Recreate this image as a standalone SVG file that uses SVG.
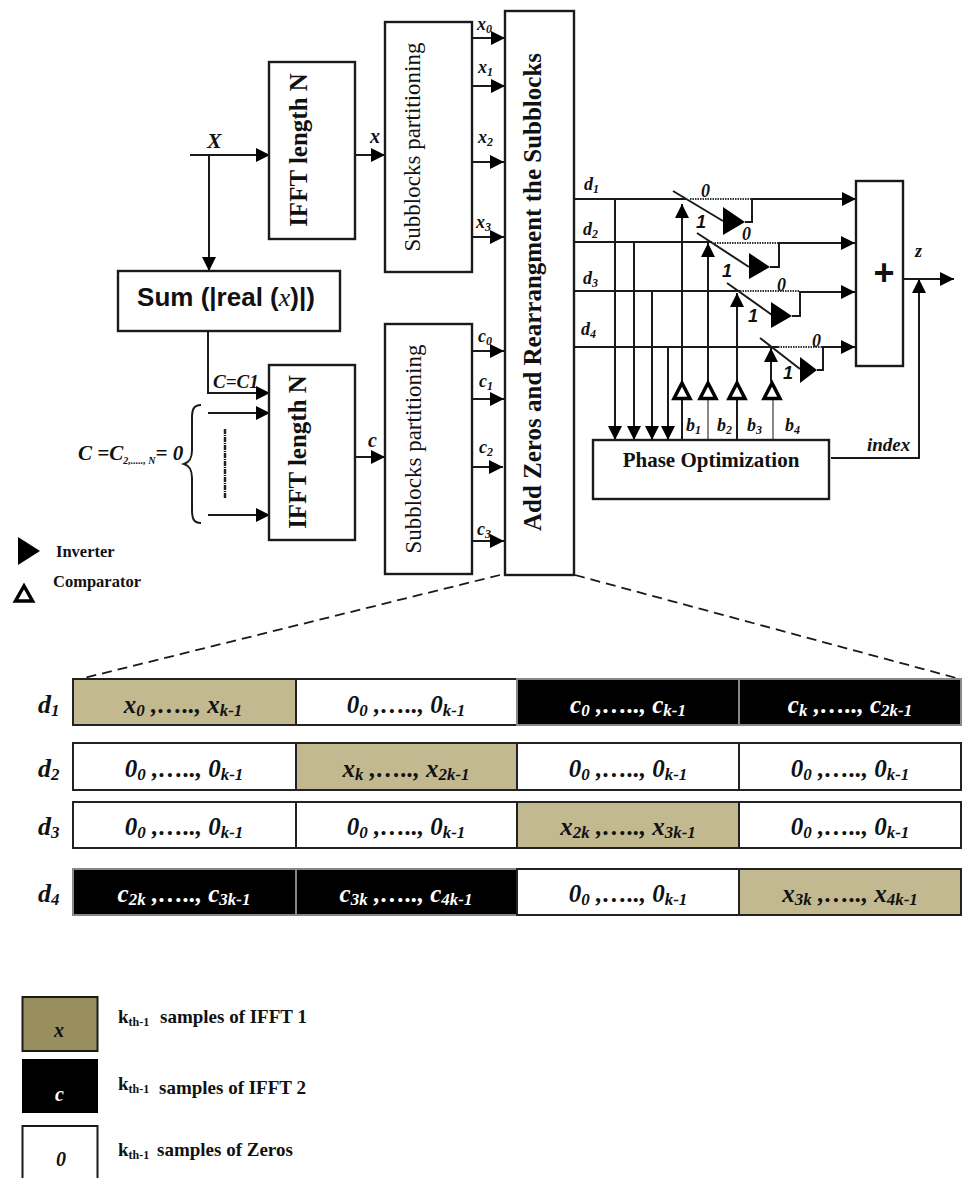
<svg xmlns="http://www.w3.org/2000/svg" width="962" height="1178" viewBox="0 0 962 1178">
<style>
text{font-family:"Liberation Serif",serif;fill:#111;font-weight:bold}
.i{font-style:italic}
.s{font-family:"Liberation Sans",sans-serif}
.box{fill:#fff;stroke:#1a1a1a;stroke-width:2.4}
.ln{fill:none;stroke:#1a1a1a;stroke-width:2}
.ar{fill:none;stroke:#1a1a1a;stroke-width:2;marker-end:url(#ah)}
.dot{fill:none;stroke:#333;stroke-width:2;stroke-dasharray:1.5 1}
.inv{fill:#000}
.cmp{fill:#fff;stroke:#000;stroke-width:3.5}
.t{font-size:25px;text-anchor:middle}
.tw{fill:#fff}
.cell{stroke:#222;stroke-width:2}
.g{stroke:#888}
.rot{text-anchor:middle}
.lab{font-size:18px}
.leg{font-size:19px}
</style>
<defs>
<marker id="ah" markerUnits="userSpaceOnUse" markerWidth="15" markerHeight="15" refX="14" refY="7.5" orient="auto"><path d="M0,0.5L14,7.5L0,14.5Z" fill="#000"/></marker>
</defs>
<rect width="962" height="1178" fill="#fff"/>

<g id="connectors">
<path class="ar" d="M190,155H270"/>
<path class="ar" d="M209,155V271"/>
<path class="ar" d="M355,155H385"/>
<path class="ar" d="M472,38H505"/>
<path class="ar" d="M472,86H505"/>
<path class="ar" d="M472,162H504"/>
<path class="ar" d="M472,237H504"/>
<path class="ar" d="M208,331V393H270"/>
<path class="ar" d="M208,413H270"/>
<path class="ar" d="M208,515H270"/>
<path class="ar" d="M355,457H385"/>
<path class="ar" d="M472,351H504"/>
<path class="ar" d="M472,399H504"/>
<path class="ar" d="M472,467H503"/>
<path class="ar" d="M472,541H504"/>
<path d="M225,429V499" fill="none" stroke="#222" stroke-width="2.5" stroke-dasharray="5 1 1 1"/>
<path class="ln" d="M201,405C194,405 192,409 192,418V450C192,458 190,462 184,464C190,466 192,470 192,478V510C192,519 194,523 201,523"/>
<path class="ln" d="M574,199H686M673,191L723,221"/>
<path class="ar" d="M615,199V440"/>
<path class="ar" d="M745,222H752V199H856"/>
<path class="ln" d="M574,242H712M697,233L749,267"/>
<path class="ar" d="M634,242V440"/>
<path class="ar" d="M770,267H779V243H855"/>
<path class="ln" d="M574,291H740M727,283L772,315"/>
<path class="ar" d="M652,291V440"/>
<path class="ar" d="M792,316H800V292H855"/>
<path class="ln" d="M574,347H778M760,338L800,369"/>
<path class="ar" d="M668,347V440"/>
<path class="ar" d="M817,370H823V347H855"/>
<path class="dot" d="M690,199H752M712,243H779M740,291H800M778,347H823"/>
<path class="ar" d="M682,382V204"/>
<path class="ar" d="M708,382V243"/>
<path class="ar" d="M737,382V293"/>
<path class="ar" d="M771,382V348"/>
<path class="ln" d="M682,400V440"/>
<path class="ln" d="M708,400V440" style="stroke:#888"/>
<path class="ln" d="M737,400V440"/>
<path class="ln" d="M773,400V440" style="stroke:#888"/>
<path class="ar" d="M903,279H954"/>
<path class="ar" d="M831,458H919V279"/>
<path d="M500,575L80,679M575,575L960,679" fill="none" stroke="#1a1a1a" stroke-width="1.8" stroke-dasharray="10 6"/>
</g>

<g id="ifft1"><rect class="box" x="269" y="62" width="86" height="177"/><text class="rot" transform="translate(307,150) rotate(-90)" font-size="25">IFFT length N</text></g>
<g id="sub1"><rect class="box" x="385" y="22" width="87" height="250"/><text class="rot" transform="translate(420,147) rotate(-90)" font-size="23" style="font-weight:normal">Subblocks partitioning</text></g>
<g id="addzeros"><rect class="box" x="505" y="11" width="69" height="564"/><text class="rot" transform="translate(541,292) rotate(-90)" font-size="25">Add Zeros and Rearrangment the Subblocks</text></g>
<g id="sum"><rect class="box" x="118" y="271" width="222" height="60"/><text x="226" y="306" font-size="26" text-anchor="middle" class="s">Sum (|real (<tspan class="i" style="font-family:'Liberation Serif',serif;font-weight:normal">x</tspan>)|)</text></g>
<g id="ifft2"><rect class="box" x="269" y="365" width="86" height="175"/><text class="rot" transform="translate(306,452) rotate(-90)" font-size="25">IFFT length N</text></g>
<g id="sub2"><rect class="box" x="385" y="324" width="87" height="250"/><text class="rot" transform="translate(421,449) rotate(-90)" font-size="23" style="font-weight:normal">Subblocks partitioning</text></g>
<g id="phase"><rect class="box" x="593" y="440" width="236" height="59"/><text x="711" y="467" font-size="21" text-anchor="middle">Phase Optimization</text></g>
<g id="plus"><rect class="box" x="856" y="181" width="47" height="185"/><text x="884" y="285" font-size="36" text-anchor="middle" class="s">+</text></g>

<g id="inverters">
<path class="inv" d="M723,207V235L745,222Z"/>
<path class="inv" d="M749,253V279L770,267Z"/>
<path class="inv" d="M771,302V328L792,316Z"/>
<path class="inv" d="M800,357V383L817,370Z"/>
</g>
<g id="comparators">
<path class="cmp" d="M682,383L674,398.5H690Z"/>
<path class="cmp" d="M708,383L700,398.5H716Z"/>
<path class="cmp" d="M737,383L729,398.5H745Z"/>
<path class="cmp" d="M772,383L764,398.5H780Z"/>
</g>

<g id="labels">
<text class="i" x="207" y="148" font-size="22">X</text>
<text class="i" x="370" y="143" font-size="20">x</text>
<text class="i lab" x="477" y="30">x<tspan dy="3" font-size="12">0</tspan></text>
<text class="i lab" x="478" y="73">x<tspan dy="3" font-size="12">1</tspan></text>
<text class="i lab" x="478" y="143">x<tspan dy="3" font-size="12">2</tspan></text>
<text class="i lab" x="476" y="228">x<tspan dy="3" font-size="12">3</tspan></text>
<text class="i lab" x="478" y="342">c<tspan dy="3" font-size="12">0</tspan></text>
<text class="i lab" x="479" y="387">c<tspan dy="3" font-size="12">1</tspan></text>
<text class="i lab" x="479" y="453">c<tspan dy="3" font-size="12">2</tspan></text>
<text class="i lab" x="477" y="535">c<tspan dy="3" font-size="12">3</tspan></text>
<text class="i" x="213" y="388" font-size="19">C=C1</text>
<text class="i" x="368" y="447" font-size="20">c</text>
<text class="i" x="78" y="460" font-size="21">C =C<tspan dy="4" font-size="10">2,....., N</tspan><tspan dy="-4">= 0</tspan></text>
<text x="56" y="557" font-size="16.5">Inverter</text>
<text x="53" y="587" font-size="16.5">Comparator</text>
<text class="i lab" x="584" y="190">d<tspan dy="3" font-size="12">1</tspan></text>
<text class="i lab" x="583" y="235">d<tspan dy="3" font-size="12">2</tspan></text>
<text class="i lab" x="583" y="284">d<tspan dy="3" font-size="12">3</tspan></text>
<text class="i lab" x="581" y="335">d<tspan dy="3" font-size="12">4</tspan></text>
<text class="i lab" x="701" y="197">0</text>
<text class="i lab" x="742" y="240">0</text>
<text class="i lab" x="777" y="291">0</text>
<text class="i lab" x="812" y="347">0</text>
<text x="696" y="228" font-size="18" class="s i">1</text>
<text x="722" y="277" font-size="18" class="s i">1</text>
<text x="748" y="322" font-size="18" class="s i">1</text>
<text x="783" y="379" font-size="18" class="s i">1</text>
<text class="i lab" x="686" y="431">b<tspan dy="3" font-size="12">1</tspan></text>
<text class="i lab" x="717" y="431">b<tspan dy="3" font-size="12">2</tspan></text>
<text class="i lab" x="747" y="431">b<tspan dy="3" font-size="12">3</tspan></text>
<text class="i lab" x="785" y="431">b<tspan dy="3" font-size="12">4</tspan></text>
<text class="i" x="867" y="451" font-size="19">index</text>
<text class="i lab" x="915" y="257">z</text>
</g>

<g id="table">
<g id="row1">
<rect class="cell" x="73" y="679" width="223" height="46" fill="#c2b991"/><rect class="cell" x="296" y="679" width="221" height="46" fill="#fff"/><rect x="517" y="679" width="222" height="46" fill="#000" class="cell g"/><rect x="739" y="679" width="222" height="46" fill="#000" class="cell g"/>
<text class="i t" x="183" y="713">x<tspan dy="3" font-size="17">0</tspan><tspan dy="-3"> ,….., x</tspan><tspan dy="3" font-size="17">k-1</tspan></text>
<text class="i t" x="406" y="713">0<tspan dy="3" font-size="17">0</tspan><tspan dy="-3"> ,….., 0</tspan><tspan dy="3" font-size="17">k-1</tspan></text>
<text class="i t tw" x="628" y="713">c<tspan dy="3" font-size="17">0</tspan><tspan dy="-3"> ,….., c</tspan><tspan dy="3" font-size="17">k-1</tspan></text>
<text class="i t tw" x="850" y="713">c<tspan dy="3" font-size="17">k</tspan><tspan dy="-3"> ,….., c</tspan><tspan dy="3" font-size="17">2k-1</tspan></text>
</g>
<g id="row2">
<rect class="cell" x="73" y="743" width="223" height="47" fill="#fff"/><rect class="cell" x="296" y="743" width="221" height="47" fill="#c2b991"/><rect class="cell" x="517" y="743" width="222" height="47" fill="#fff"/><rect class="cell" x="739" y="743" width="222" height="47" fill="#fff"/>
<text class="i t" x="184" y="777">0<tspan dy="3" font-size="17">0</tspan><tspan dy="-3"> ,….., 0</tspan><tspan dy="3" font-size="17">k-1</tspan></text>
<text class="i t" x="406" y="777">x<tspan dy="3" font-size="17">k</tspan><tspan dy="-3"> ,….., x</tspan><tspan dy="3" font-size="17">2k-1</tspan></text>
<text class="i t" x="628" y="777">0<tspan dy="3" font-size="17">0</tspan><tspan dy="-3"> ,….., 0</tspan><tspan dy="3" font-size="17">k-1</tspan></text>
<text class="i t" x="850" y="777">0<tspan dy="3" font-size="17">0</tspan><tspan dy="-3"> ,….., 0</tspan><tspan dy="3" font-size="17">k-1</tspan></text>
</g>
<g id="row3">
<rect class="cell" x="73" y="802" width="223" height="46" fill="#fff"/><rect class="cell" x="296" y="802" width="221" height="46" fill="#fff"/><rect class="cell" x="517" y="802" width="222" height="46" fill="#c2b991"/><rect class="cell" x="739" y="802" width="222" height="46" fill="#fff"/>
<text class="i t" x="184" y="835">0<tspan dy="3" font-size="17">0</tspan><tspan dy="-3"> ,….., 0</tspan><tspan dy="3" font-size="17">k-1</tspan></text>
<text class="i t" x="406" y="835">0<tspan dy="3" font-size="17">0</tspan><tspan dy="-3"> ,….., 0</tspan><tspan dy="3" font-size="17">k-1</tspan></text>
<text class="i t" x="628" y="835">x<tspan dy="3" font-size="17">2k</tspan><tspan dy="-3"> ,….., x</tspan><tspan dy="3" font-size="17">3k-1</tspan></text>
<text class="i t" x="850" y="835">0<tspan dy="3" font-size="17">0</tspan><tspan dy="-3"> ,….., 0</tspan><tspan dy="3" font-size="17">k-1</tspan></text>
</g>
<g id="row4">
<rect x="73" y="869" width="223" height="46" fill="#000" class="cell g"/><rect x="296" y="869" width="221" height="46" fill="#000" class="cell g"/><rect class="cell" x="517" y="869" width="222" height="46" fill="#fff"/><rect class="cell" x="739" y="869" width="222" height="46" fill="#c2b991"/>
<text class="i t tw" x="184" y="902">c<tspan dy="3" font-size="17">2k</tspan><tspan dy="-3"> ,….., c</tspan><tspan dy="3" font-size="17">3k-1</tspan></text>
<text class="i t tw" x="406" y="902">c<tspan dy="3" font-size="17">3k</tspan><tspan dy="-3"> ,….., c</tspan><tspan dy="3" font-size="17">4k-1</tspan></text>
<text class="i t" x="628" y="902">0<tspan dy="3" font-size="17">0</tspan><tspan dy="-3"> ,….., 0</tspan><tspan dy="3" font-size="17">k-1</tspan></text>
<text class="i t" x="850" y="902">x<tspan dy="3" font-size="17">3k</tspan><tspan dy="-3"> ,….., x</tspan><tspan dy="3" font-size="17">4k-1</tspan></text>
</g>
<text class="i" x="38" y="713" font-size="26">d<tspan dy="3" font-size="17">1</tspan></text>
<text class="i" x="38" y="777" font-size="26">d<tspan dy="3" font-size="17">2</tspan></text>
<text class="i" x="38" y="835" font-size="26">d<tspan dy="3" font-size="17">3</tspan></text>
<text class="i" x="38" y="902" font-size="26">d<tspan dy="3" font-size="17">4</tspan></text>
</g>

<g id="legend">
<g id="leg-x"><rect x="22.5" y="997" width="75" height="54" fill="#988e5e" stroke="#1a1a1a" stroke-width="2"/><text class="i" x="54" y="1037" font-size="20">x</text><text class="leg" x="118" y="1023">k<tspan dy="3" font-size="12">th-1</tspan><tspan x="160" dy="-3">samples of IFFT 1</tspan></text></g>
<g id="leg-c"><rect x="22" y="1059" width="76" height="54" fill="#000"/><text class="i tw" x="55" y="1101" font-size="20">c</text><text class="leg" x="118" y="1090">k<tspan dy="3" font-size="12">th-1</tspan><tspan x="159" dy="1">samples of IFFT 2</tspan></text></g>
<g id="leg-0"><rect x="22.5" y="1126" width="75" height="60" fill="#fff" stroke="#1a1a1a" stroke-width="2"/><text class="i" x="56" y="1166" font-size="20">0</text><text class="leg" x="118" y="1156">k<tspan dy="3" font-size="12">th-1</tspan><tspan x="157" dy="-3">samples of Zeros</tspan></text></g>
</g>

<g id="key">
<path class="inv" d="M18,537V565L40,551Z"/>
<path class="cmp" d="M24,586L15.5,601H32.5Z"/>
</g>
</svg>
